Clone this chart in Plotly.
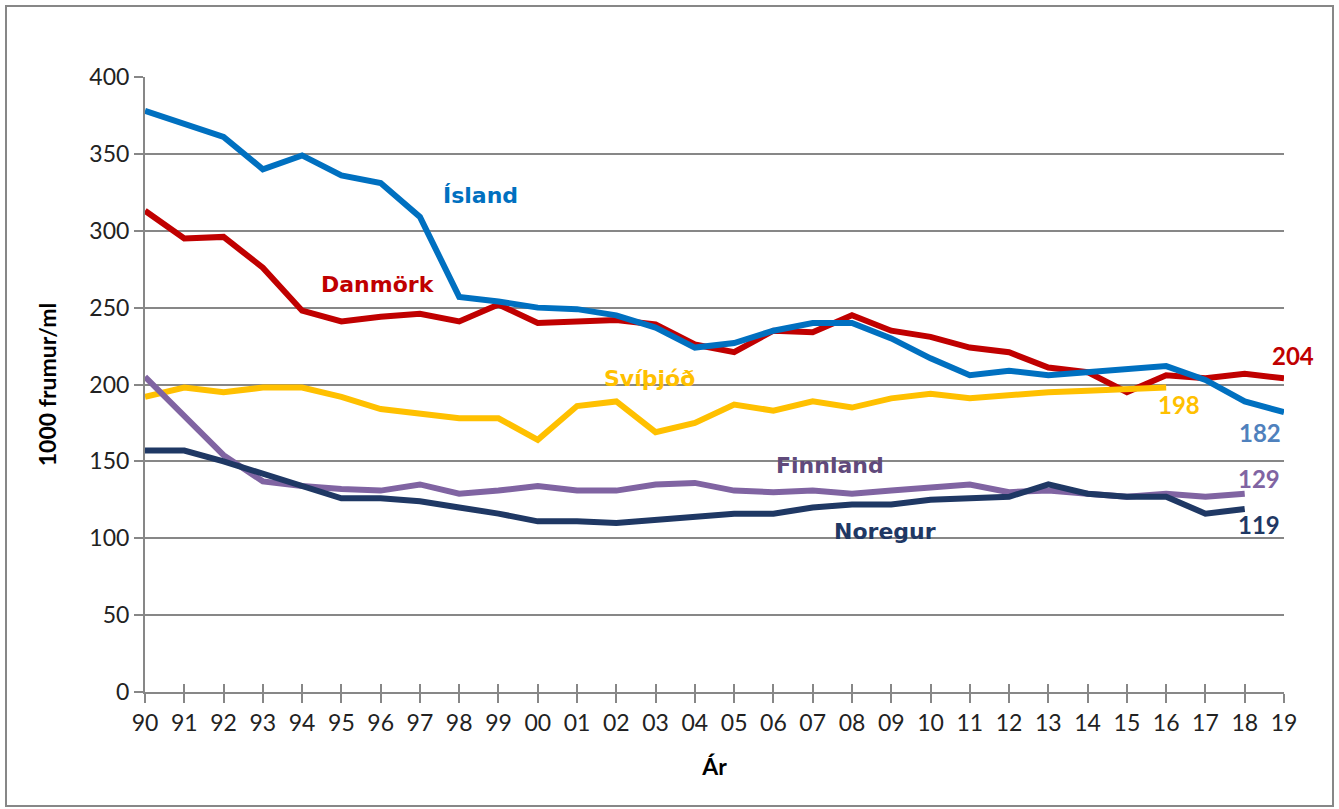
import plotly.graph_objects as go

years = ["90","91","92","93","94","95","96","97","98","99","00","01","02","03","04",
         "05","06","07","08","09","10","11","12","13","14","15","16","17","18","19"]

island = [378,370,361,340,349,336,331,309,257,254,250,249,245,237,224,227,235,240,240,230,217,206,209,206,208,210,212,203,189,182]
danmork = [313,295,296,276,248,241,244,246,241,252,240,241,242,239,226,221,235,234,245,235,231,224,221,211,208,195,206,204,207,204]
svithjod = [192,198,195,198,198,192,184,181,178,178,164,186,189,169,175,187,183,189,185,191,194,191,193,195,196,197,198]
finnland = [205,179,154,137,134,132,131,135,129,131,134,131,131,135,136,131,130,131,129,131,133,135,130,131,129,127,129,127,129]
noregur = [157,157,150,142,135,126,126,124,120,116,111,111,110,112,114,116,116,120,122,122,125,126,127,135,129,127,127,116,119]

series = [
    ("Danmörk", danmork, "#C00000"),
    ("Svíþjóð", svithjod, "#FFC000"),
    ("Finnland", finnland, "#8064A2"),
    ("Noregur", noregur, "#1F3864"),
    ("Ísland", island, "#0070C0"),
]

W, H = 1339, 809
ML, MR, MT, MB = 145, 55, 77, 117

fig = go.Figure()
for name, vals, col in series:
    fig.add_trace(go.Scatter(
        x=list(range(len(vals))), y=vals, mode="lines", name=name,
        line=dict(color=col, width=6), hoverinfo="x+y+name"))

grid = "#878787"
tickfont = dict(family="Lato", size=23, color="#222222")
nmax = len(years) - 1

fig.update_layout(
    width=W, height=H,
    margin=dict(l=ML, r=MR, t=MT, b=MB),
    paper_bgcolor="white", plot_bgcolor="white",
    showlegend=False,
    xaxis=dict(
        range=[0, nmax], tickmode="array",
        tickvals=list(range(len(years))), ticktext=years,
        showgrid=False, showline=True, linecolor=grid, linewidth=2,
        ticks="outside", ticklen=9, tickwidth=2, tickcolor=grid,
        tickfont=tickfont, zeroline=False,
        title=dict(text="<b>Ár</b>", font=dict(family="Lato", size=23, color="#000000"), standoff=24),
    ),
    xaxis2=dict(
        overlaying="x", range=[0, nmax], tickmode="array",
        tickvals=list(range(len(years))), showticklabels=False,
        showgrid=False, showline=False, ticks="inside", ticklen=8, tickwidth=2,
        tickcolor=grid, zeroline=False, anchor="y",
    ),
    yaxis=dict(
        range=[0, 400], tickmode="array", tickvals=list(range(0, 401, 50)),
        showgrid=True, gridcolor=grid, gridwidth=2,
        showline=True, linecolor=grid, linewidth=2,
        ticks="outside", ticklen=9, tickwidth=2, tickcolor=grid,
        tickfont=tickfont, zeroline=False,
        title=dict(text="<b>1000 frumur/ml</b>", font=dict(family="Lato", size=23, color="#000000"), standoff=26),
    ),
)

# invisible trace to activate xaxis2 (cross-style tick marks)
fig.add_trace(go.Scatter(x=[0], y=[0], xaxis="x2", yaxis="y", mode="markers",
                         marker=dict(opacity=0), hoverinfo="skip", showlegend=False))

# series name labels
lab_font = "DejaVu Sans"
labels = [
    ("<b>Ísland</b>", 8.55, 323, "#0070C0"),
    ("<b>Danmörk</b>", 5.93, 265, "#C00000"),
    ("<b>Svíþjóð</b>", 12.85, 204, "#FFC000"),
    ("<b>Finnland</b>", 17.44, 147, "#604A7B"),
    ("<b>Noregur</b>", 18.84, 104.5, "#1F3864"),
]
for t, x, y, c in labels:
    fig.add_annotation(x=x / nmax, y=y, text=t, showarrow=False, xref="paper", yref="y",
                       xanchor="center", yanchor="middle",
                       font=dict(family=lab_font, size=22, color=c))

# end value labels
ends = [
    (danmork, 0.22, 15, "#C00000"),
    (svithjod, 0.33, -11, "#FFC000"),
    (island, -0.62, -13, "#4F81BD"),
    (finnland, 0.36, 10, "#8064A2"),
    (noregur, 0.36, -10, "#1F3864"),
]
for vals, dx, dy, c in ends:
    fig.add_annotation(x=(len(vals) - 1 + dx) / nmax, y=vals[-1] + dy, text="<b>%d</b>" % vals[-1],
                       showarrow=False, xref="paper", yref="y",
                       xanchor="center", yanchor="middle",
                       font=dict(family="Lato", size=24, color=c))

# outer frame
pw = W - ML - MR
ph = H - MT - MB
fig.add_shape(type="rect", xref="paper", yref="paper",
              x0=(6 - ML) / pw, x1=(1333 - ML) / pw,
              y0=(H - 806 - MB) / ph, y1=(H - 6 - MB) / ph,
              line=dict(color="#878787", width=2), fillcolor="rgba(0,0,0,0)", layer="below")

fig.write_html("out.html", config={"displayModeBar": False},
               post_script="document.body.style.margin='0';document.body.style.overflow='hidden';")
